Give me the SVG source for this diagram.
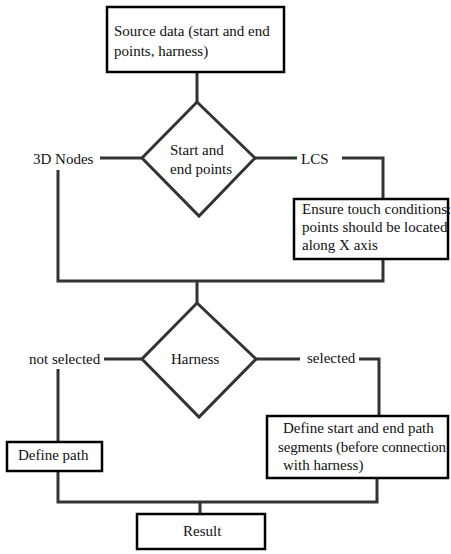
<svg xmlns="http://www.w3.org/2000/svg" width="451" height="554" viewBox="0 0 451 554">
<style>
.box{fill:#fff;stroke:#000;stroke-width:2.5}
.dia{fill:#fff;stroke:#333;stroke-width:3}
.ln{fill:none;stroke:#333;stroke-width:3}
text{font-family:"Liberation Serif","Times New Roman",serif;font-size:15px;fill:#111}
</style>
<rect width="451" height="554" fill="#fff"/>
<g id="connectors">
<path class="ln" d="M197,72 V103"/>
<path class="ln" d="M100,158 H142"/>
<path class="ln" d="M255,158 H297"/>
<path class="ln" d="M342,158 H383 V199"/>
<path class="ln" d="M58,170 V281 H383 V259"/>
<path class="ln" d="M197,281 V304"/>
<path class="ln" d="M104,359 H142"/>
<path class="ln" d="M256,359 H300"/>
<path class="ln" d="M359,359 H379 V416"/>
<path class="ln" d="M58,369 V442"/>
<path class="ln" d="M58,471 V502 H377 V478"/>
<path class="ln" d="M200,502 V514"/>
</g>
<g id="source">
<rect class="box" x="107" y="7" width="177" height="65"/>
<text x="114" y="36">Source data (start and end</text>
<text x="114" y="56">points, harness)</text>
</g>
<g id="decision1">
<polygon class="dia" points="197,102 255,158 199,216 142,158"/>
<text x="170" y="155">Start and</text>
<text x="170" y="174">end points</text>
</g>
<g id="label-3d"><text x="33" y="164">3D Nodes</text></g>
<g id="label-lcs"><text x="301" y="164">LCS</text></g>
<g id="ensure">
<rect class="box" x="294" y="199" width="154" height="60"/>
<text x="302" y="214">Ensure touch conditions:</text>
<text x="302" y="232">points should be located</text>
<text x="302" y="250">along X axis</text>
</g>
<g id="decision2">
<polygon class="dia" points="197,303 256,359 199,417 142,359"/>
<text x="171" y="364">Harness</text>
</g>
<g id="label-notsel"><text x="29" y="364">not selected</text></g>
<g id="label-sel"><text x="307" y="363">selected</text></g>
<g id="definepath">
<rect class="box" x="7" y="442" width="95" height="29"/>
<text x="18" y="460">Define path</text>
</g>
<g id="definesegments">
<rect class="box" x="267" y="416" width="181" height="62"/>
<text x="283" y="433">Define start and end path</text>
<text x="278" y="452" textLength="168">segments (before connection</text>
<text x="283" y="470">with harness)</text>
</g>
<g id="result">
<rect class="box" x="137" y="514" width="128" height="35"/>
<text x="183" y="536">Result</text>
</g>
</svg>
